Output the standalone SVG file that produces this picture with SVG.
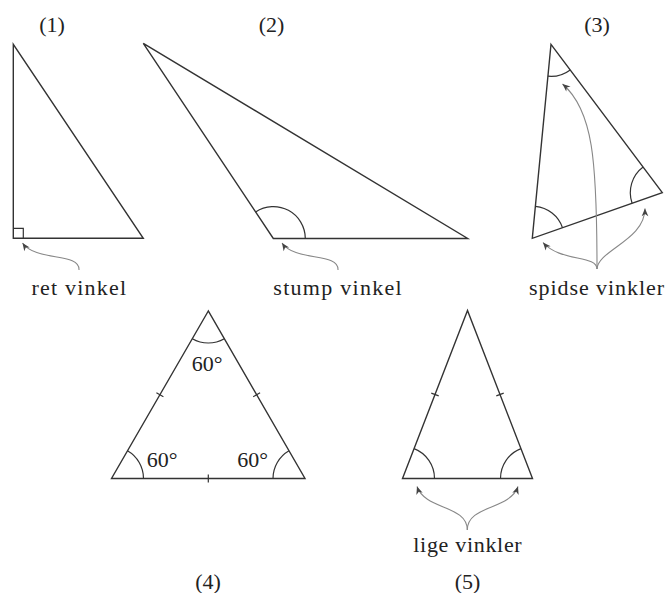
<svg xmlns="http://www.w3.org/2000/svg" width="667" height="593" viewBox="0 0 667 593">
<style>
.tri{fill:none;stroke:#333;stroke-width:1.4;stroke-linejoin:miter}
.ang{fill:none;stroke:#333;stroke-width:1.2}
.tick{fill:none;stroke:#333;stroke-width:1.2}
.arr{fill:none;stroke:#888;stroke-width:1.1;marker-end:url(#ah)}
text{font-family:"Liberation Serif","DejaVu Serif",serif;font-size:22px;fill:#222}
.c{text-anchor:middle}
</style>
<defs>
<marker id="ah" markerUnits="userSpaceOnUse" markerWidth="10" markerHeight="10" viewBox="-8 -4 9 8" refX="0" refY="0" orient="auto">
<path d="M0,0 L-7,-3 L-5,0 L-7,3 Z" fill="#444"/>
</marker>
</defs>
<rect width="667" height="593" fill="#fff"/>
<g id="t1">
<polygon class="tri" points="13.3,44.3 13.3,238.3 143.3,238.3"/>
<path class="ang" d="M13.3,228.3 H23.3 V238.3"/>
<text class="c" x="52" y="32">(1)</text>
<text x="31.5" y="295" textLength="94.5" lengthAdjust="spacing">ret vinkel</text>
</g>
<g id="t2">
<polygon class="tri" points="143.3,43.3 273.3,238.5 467.7,238.5"/>
<path class="ang" d="M305.3,238.5 A32,32 0 0 0 255.6,211.9"/>
<text class="c" x="271.5" y="32">(2)</text>
<text x="273.3" y="295" textLength="128.4" lengthAdjust="spacing">stump vinkel</text>
</g>
<g id="t3">
<polygon class="tri" points="551,44.3 662.3,192.7 532.3,238.3"/>
<path class="ang" d="M547.9,76.2 A32,32 0 0 0 570.2,69.9"/>
<path class="ang" d="M632.1,203.3 A32,32 0 0 1 643.1,167.1"/>
<path class="ang" d="M535.4,206.4 A32,32 0 0 1 562.5,227.7"/>
<text class="c" x="597" y="32">(3)</text>
<text x="529" y="295" textLength="135" lengthAdjust="spacing">spidse vinkler</text>
</g>
<g id="t4">
<polygon class="tri" points="208.3,311 111.5,478.5 305,478.5"/>
<path class="ang" d="M192.3,338.7 A32,32 0 0 0 224.3,338.7"/>
<path class="ang" d="M143.5,478.5 A32,32 0 0 0 127.5,450.8"/>
<path class="ang" d="M273,478.5 A32,32 0 0 1 289,450.8"/>
<path class="tick" d="M156.4,392.75 L163.4,396.75 M253.2,396.75 L260.1,392.75 M208.3,474.5 L208.3,482.5"/>
<text x="191.7" y="371">60°</text>
<text x="146.7" y="467">60°</text>
<text x="237.3" y="467">60°</text>
<text class="c" x="208" y="589">(4)</text>
</g>
<g id="t5">
<polygon class="tri" points="467.5,310.5 402.5,478.5 532.5,478.5"/>
<path class="ang" d="M434.5,478.5 A32,32 0 0 0 414.05,448.65"/>
<path class="ang" d="M500.5,478.5 A32,32 0 0 1 520.95,448.65"/>
<path class="tick" d="M431.3,393.1 L438.7,395.9 M496.3,395.9 L503.7,393.1"/>
<text x="413.3" y="552" textLength="108.4" lengthAdjust="spacing">lige vinkler</text>
<text class="c" x="467.5" y="589">(5)</text>
</g>
<g id="connectors">
<path class="arr" d="M79,270 C80,252 36,262 22.5,243"/>
<path class="arr" d="M338,270 C339,252 295,262 282,243"/>
<path class="arr" d="M597,269 C597,255 560,262 543,242.5"/>
<path class="arr" d="M597,269 C597,160 593,110 562.5,84"/>
<path class="arr" d="M597,269 C598,250 645,240 645,208.5"/>
<path class="arr" d="M467.3,530 C467.3,505 425,510 417,486.5"/>
<path class="arr" d="M467.3,530 C467.3,505 510,510 518,486.5"/>
</g>
</svg>
